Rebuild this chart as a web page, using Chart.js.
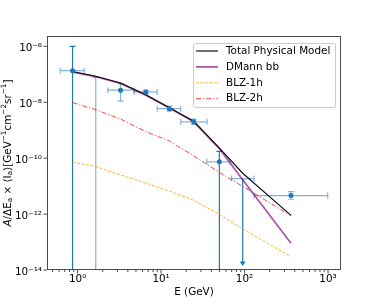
<!DOCTYPE html>
<html>
<head>
<meta charset="utf-8">
<script src="https://cdn.jsdelivr.net/npm/chart.js@4.4.0/dist/chart.umd.min.js"></script>
<style>
  html, body { margin: 0; padding: 0; background: #fff; }
</style>
</head>
<body>
<canvas id="myChart" width="379" height="304"></canvas>
<script>
// model curves, sampled at the same energies
var energy     = [0.87, 1.65, 3.27, 6.56, 12.6, 24.6, 50, 95, 360];
var totalModel = [1.26e-7, 8.5e-8, 4.9e-8, 1.86e-8, 6.4e-9, 2.1e-9, 2.3e-10, 2.9e-11, 9.0e-13];
var dmannBB    = [1.2e-7, 8.2e-8, 4.7e-8, 1.8e-8, 6.2e-9, 2.0e-9, 2.2e-10, 1.7e-11, 9.0e-14];
var blz1h      = [7.3e-11, 5.0e-11, 2.5e-11, 1.3e-11, 6.6e-12, 3.1e-12, 9.8e-13, 2.95e-13, 3.0e-14];
var blz2h      = [9.8e-9, 5.4e-9, 2.5e-9, 8.9e-10, 4.1e-10, 1.2e-10, 3.1e-11, 9.8e-12, 8.7e-13];

// measured points with error bars (null flux = central value below the axis)
var ptE      = [0.87, 1.65, 3.27, 6.56, 12.6, 24.6, 49.9, 95, 360];
var ptELo    = [0.62, 1.65, 2.3, 4.75, 9.0, 17.2, 35.3, 70, 130];
var ptEHi    = [1.2, 1.65, 4.75, 8.96, 17.2, 35.6, 67, 130, 991];
var ptFlux   = [1.35e-7, null, 2.7e-8, 2.35e-8, 5.9e-9, 2.0e-9, 7.4e-11, 1.86e-11, 4.6e-12];
var ptFluxLo = [1e-16, 1e-16, 1.1e-8, 2.0e-8, 4.8e-9, 1.6e-9, 1e-16, 1.5e-14, 3.4e-12];
var ptFluxHi = [1e-6, 7.8e-8, 4.6e-8, 2.75e-8, 7.3e-9, 2.5e-9, 1.74e-10, 1.86e-11, 6.4e-12];
var ptUpperLimit = [false, false, false, false, false, false, false, true, false];

// tick labels
var xTickPowers = [0, 1, 2, 3];
var yTickPowers = [-14, -12, -10, -8, -6];

var FONT = '"DejaVu Sans", sans-serif';
var supMap = {'-': '\u207B', '0': '\u2070', '1': '\u00B9', '2': '\u00B2', '3': '\u00B3',
              '4': '\u2074', '5': '\u2075', '6': '\u2076', '7': '\u2077', '8': '\u2078', '9': '\u2079'};
function supText(n) {
    return String(n).split('').map(function (c) { return supMap[c]; }).join('');
}
function pow10Label(v) {
    return '10' + supText(Math.round(Math.log10(v)));
}

function makeLine(ys) {
    return energy.map(function (e, i) { return {x: e, y: ys[i]}; });
}

var markers = [];
for (var i = 0; i < ptE.length; i++) {
    if (ptFlux[i] !== null && !ptUpperLimit[i]) markers.push({x: ptE[i], y: ptFlux[i]});
}

var BLUE = '31,119,180';
var solidBars = [0, 6, 7]; // vertical bars drawn in full colour

var errorBars = {
    id: 'errorBars',
    beforeDatasetsDraw: function (chart) {
        var ctx = chart.ctx, a = chart.chartArea;
        var xs = chart.scales.x, ys = chart.scales.y;
        ctx.save();
        ctx.beginPath();
        ctx.rect(a.left, a.top, a.right - a.left, a.bottom - a.top);
        ctx.clip();
        ctx.lineWidth = 1.2;
        var cap = 3;
        for (var i = 0; i < ptE.length; i++) {
            var px = xs.getPixelForValue(ptE[i]);
            var light = 'rgba(' + BLUE + ',0.55)';
            var vcol = solidBars.indexOf(i) >= 0 ? 'rgb(' + BLUE + ')' : light;
            // horizontal bar
            if (ptFlux[i] !== null) {
                var py = ys.getPixelForValue(ptFlux[i]);
                var x0 = xs.getPixelForValue(ptELo[i]), x1 = xs.getPixelForValue(ptEHi[i]);
                ctx.strokeStyle = light;
                ctx.beginPath();
                ctx.moveTo(x0, py); ctx.lineTo(x1, py);
                ctx.moveTo(x0, py - cap); ctx.lineTo(x0, py + cap);
                ctx.moveTo(x1, py - cap); ctx.lineTo(x1, py + cap);
                ctx.stroke();
            }
            // vertical bar
            var yTop = ys.getPixelForValue(ptFluxHi[i]);
            var yBot = ys.getPixelForValue(ptFluxLo[i]);
            ctx.strokeStyle = vcol;
            ctx.beginPath();
            ctx.moveTo(px, yTop); ctx.lineTo(px, yBot);
            if (!ptUpperLimit[i]) {
                ctx.moveTo(px - cap, yTop); ctx.lineTo(px + cap, yTop);
                ctx.moveTo(px - cap, yBot); ctx.lineTo(px + cap, yBot);
            }
            ctx.stroke();
            if (ptUpperLimit[i]) {
                ctx.fillStyle = 'rgb(' + BLUE + ')';
                ctx.beginPath();
                ctx.moveTo(px - 3, yBot - 3.5);
                ctx.lineTo(px + 3, yBot - 3.5);
                ctx.lineTo(px, yBot + 1);
                ctx.closePath();
                ctx.fill();
            }
        }
        ctx.restore();
    }
};

function drawRich(ctx, segs, cx, cy, size) {
    var small = size * 0.7;
    var total = 0;
    segs.forEach(function (s) {
        ctx.font = (s[2] ? 'italic ' : '') + (s[1] ? small : size) + 'px ' + FONT;
        s.w = ctx.measureText(s[0]).width;
        total += s.w;
    });
    var x = cx - total / 2;
    segs.forEach(function (s) {
        ctx.font = (s[2] ? 'italic ' : '') + (s[1] ? small : size) + 'px ' + FONT;
        var dy = s[1] === 'sub' ? size * 0.22 : (s[1] === 'sup' ? -size * 0.38 : 0);
        ctx.fillText(s[0], x, cy + dy);
        x += s.w;
    });
}

var decorations = {
    id: 'decorations',
    afterDraw: function (chart) {
        var ctx = chart.ctx, a = chart.chartArea;
        var xs = chart.scales.x, ys = chart.scales.y;
        ctx.save();
        // frame
        ctx.strokeStyle = '#3a3a3a';
        ctx.lineWidth = 0.9;
        ctx.strokeRect(Math.round(a.left) + 0.5, Math.round(a.top) + 0.5,
            Math.round(a.right - a.left) - 1, Math.round(a.bottom - a.top) - 1);
        // ticks
        ctx.beginPath();
        xTickPowers.forEach(function (p) {
            var x = xs.getPixelForValue(Math.pow(10, p));
            ctx.moveTo(x, a.bottom); ctx.lineTo(x, a.bottom + 3.5);
        });
        for (var p = -1; p <= 3; p++) {
            for (var m = 2; m <= 9; m++) {
                var v = m * Math.pow(10, p);
                if (v < xs.min || v > xs.max) continue;
                var x = xs.getPixelForValue(v);
                ctx.moveTo(x, a.bottom); ctx.lineTo(x, a.bottom + 2);
            }
        }
        yTickPowers.forEach(function (p) {
            var y = ys.getPixelForValue(Math.pow(10, p));
            ctx.moveTo(a.left, y); ctx.lineTo(a.left - 3.5, y);
        });
        ctx.stroke();

        // axis titles
        ctx.fillStyle = '#000';
        ctx.textBaseline = 'middle';
        ctx.textAlign = 'center';
        ctx.font = '10.4px ' + FONT;
        ctx.fillText('E (GeV)', (a.left + a.right) / 2, 292);

        ctx.save();
        ctx.translate(8, (a.top + a.bottom) / 2);
        ctx.rotate(-Math.PI / 2);
        ctx.textAlign = 'left';
        drawRich(ctx, [
            ['A', '', true], ['/\u0394E', ''], ['a', 'sub'], [' \u00D7 \u27E8', ''], ['I', ''], ['a', 'sub'],
            ['\u27E9[GeV', ''], ['\u22121', 'sup'], ['cm', ''], ['\u22122', 'sup'], ['sr', ''], ['\u22121', 'sup'], [']', '']
        ], 0, 0, 10.4);
        ctx.restore();

        // legend
        var lx = 193, ly = 43, lw = 142, lh = 64;
        ctx.fillStyle = 'rgba(255,255,255,0.8)';
        ctx.strokeStyle = '#cccccc';
        ctx.lineWidth = 1;
        ctx.beginPath();
        ctx.roundRect(lx + 0.5, ly + 0.5, lw, lh, 2);
        ctx.fill();
        ctx.stroke();
        var items = chart.data.datasets.filter(function (d) { return d.inLegend; });
        items.sort(function (p, q) { return p.legendOrder - q.legendOrder; });
        ctx.textAlign = 'left';
        ctx.font = '10.4px ' + FONT;
        items.forEach(function (d, k) {
            var y = ly + 8 + k * 15.9;
            ctx.strokeStyle = d.borderColor;
            ctx.lineWidth = d.borderWidth;
            ctx.setLineDash(d.borderDash || []);
            ctx.beginPath();
            ctx.moveTo(lx + 3, y); ctx.lineTo(lx + 25, y);
            ctx.stroke();
            ctx.setLineDash([]);
            ctx.fillStyle = '#000';
            ctx.fillText(d.label, lx + 33, y);
        });
        ctx.restore();
    }
};

new Chart(document.getElementById('myChart'), {
    type: 'line',
    data: {
        datasets: [
            {label: 'points', data: markers, showLine: false, pointRadius: 2.5,
             pointBackgroundColor: 'rgb(' + BLUE + ')', pointBorderWidth: 0, borderColor: 'rgb(' + BLUE + ')'},
            {label: 'Total Physical Model', data: makeLine(totalModel), borderColor: '#111111',
             borderWidth: 1.2, pointRadius: 0, inLegend: true, legendOrder: 0},
            {label: 'DMann bb', data: makeLine(dmannBB), borderColor: 'rgba(128,0,128,0.65)',
             borderWidth: 1.8, pointRadius: 0, inLegend: true, legendOrder: 1},
            {label: 'BLZ-2h', data: makeLine(blz2h), borderColor: 'rgba(255,0,0,0.75)',
             borderWidth: 1, borderDash: [5, 2, 1.2, 2], pointRadius: 0, inLegend: true, legendOrder: 3},
            {label: 'BLZ-1h', data: makeLine(blz1h), borderColor: 'rgba(255,165,0,0.85)',
             borderWidth: 1, borderDash: [3, 1.6], pointRadius: 0, inLegend: true, legendOrder: 2}
        ]
    },
    options: {
        responsive: false,
        animation: false,
        layout: {padding: {left: 0, top: 36, right: 38, bottom: 0}},
        plugins: {legend: {display: false}, tooltip: {enabled: false}},
        elements: {line: {tension: 0}},
        scales: {
            x: {
                type: 'logarithmic', min: 0.43, max: 1430,
                grid: {display: false, drawTicks: false},
                border: {display: false},
                afterFit: function (s) { s.height = 34; },
                afterBuildTicks: function (s) {
                    s.ticks = xTickPowers.map(function (p) { return {value: Math.pow(10, p)}; });
                },
                ticks: {
                    autoSkip: false, maxRotation: 0, padding: 3, color: '#000',
                    font: {family: FONT, size: 10.4},
                    callback: function (v) { return pow10Label(v); }
                }
            },
            y: {
                type: 'logarithmic', min: 1e-14, max: Math.pow(10, -5.63),
                grid: {display: false, drawTicks: false},
                border: {display: false},
                afterFit: function (s) { s.width = 47; },
                afterBuildTicks: function (s) {
                    s.ticks = yTickPowers.map(function (p) { return {value: Math.pow(10, p)}; });
                },
                ticks: {
                    autoSkip: false, padding: 5, color: '#000', labelOffset: 2,
                    font: {family: FONT, size: 10.4},
                    callback: function (v) { return pow10Label(v); }
                }
            }
        }
    },
    plugins: [errorBars, decorations]
});
</script>
</body>
</html>
